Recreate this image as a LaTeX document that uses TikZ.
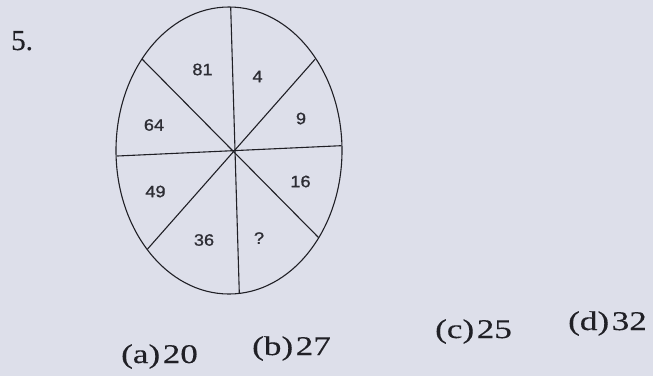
\documentclass[tikz,border=0pt]{standalone}
\usepackage{fontspec}
\setmainfont{Liberation Serif}[FakeBold=0.3]
\newfontfamily\numfont{Liberation Sans}[FakeBold=0.9]
\definecolor{paper}{RGB}{221,223,234}
\definecolor{ink}{RGB}{32,32,38}
\definecolor{numink}{RGB}{45,45,52}
\begin{document}
\begin{tikzpicture}[x=1pt,y=-1pt,
  lbl/.style={inner sep=0pt, text=numink, font=\numfont\fontsize{16.5}{16.5}\selectfont},
  opt/.style={inner sep=0pt, anchor=base west, text=ink, font=\fontsize{27}{27}\selectfont},
  ln/.style={draw=ink, line width=1.1pt, line cap=round}]
\fill[paper] (0,0) rectangle (653,376);
\useasboundingbox (0,0) rectangle (653,376);

% question number
\node[opt, font=\fontsize{29}{29}\selectfont] (qnum) at (11,50) {5.};

% ellipse and its spokes
\draw[ln] (229,150.5) ellipse [x radius=113, y radius=143.5];
\coordinate (top) at (230.7,7.3);
\coordinate (bot) at (239.3,293);
\coordinate (lft) at (117.3,156);
\coordinate (rgt) at (341,145.7);
\coordinate (tl) at (142.3,59.3);
\coordinate (br) at (318.3,237.3);
\coordinate (tr) at (315,59.3);
\coordinate (bl) at (147.3,249.3);
\draw[ln] (top) -- (bot);
\draw[ln] (lft) -- (rgt);
\draw[ln] (tl) -- (br);
\draw[ln] (tr) -- (bl);

% sector numbers
\node[lbl] (n81) at (202.5,69.5) {\scalebox{1.1}[1]{81}};
\node[lbl] (n4)  at (257.5,76.5) {\scalebox{1.1}[1]{4}};
\node[lbl] (n9)  at (301,118.5) {\scalebox{1.1}[1]{9}};
\node[lbl] (n16) at (300.5,181.5) {\scalebox{1.1}[1]{16}};
\node[lbl] (nq)  at (259,238) {\scalebox{1.1}[1]{?}};
\node[lbl] (n36) at (204,240) {\scalebox{1.1}[1]{36}};
\node[lbl] (n49) at (155.5,191.5) {\scalebox{1.1}[1]{49}};
\node[lbl] (n64) at (154,125) {\scalebox{1.1}[1]{64}};

% answer options
\node[opt] (oa) at (121,363) {\scalebox{1.3}[1]{\spaceskip=2pt (a) 20}};
\node[opt] (ob) at (252,355) {\scalebox{1.3}[1]{\spaceskip=2pt (b) 27}};
\node[opt] (oc) at (435,338) {\scalebox{1.3}[1]{\spaceskip=2pt (c) 25}};
\node[opt] (od) at (568,330) {\scalebox{1.3}[1]{\spaceskip=2pt (d) 32}};
\end{tikzpicture}
\end{document}
